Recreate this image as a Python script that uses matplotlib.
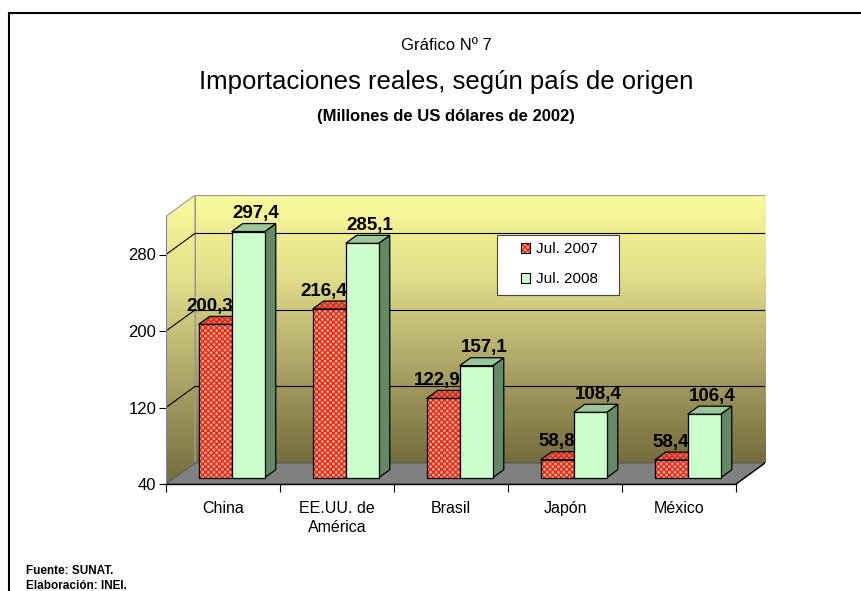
import numpy as np
import matplotlib
matplotlib.use('Agg')
import matplotlib.pyplot as plt
from matplotlib.patches import Polygon, Patch, Rectangle
from matplotlib.lines import Line2D
from matplotlib.colors import LinearSegmentedColormap

# ---------------- data ----------------
categories = ['China', 'EE.UU. de\nAmérica', 'Brasil', 'Japón', 'México']
series_names = ['Jul. 2007', 'Jul. 2008']
values_2007 = [200.3, 216.4, 122.9, 58.8, 58.4]
values_2008 = [297.4, 285.1, 157.1, 108.4, 106.4]
yticks = [40, 120, 200, 280]
title_top = 'Gráfico Nº 7'
title_main = 'Importaciones reales, según país de origen'
title_sub = '(Millones de US dólares de 2002)'
source_lines = ['Fuente: SUNAT.', 'Elaboración: INEI.']

# ---------------- style ----------------
NARROW = ['Liberation Sans Narrow', 'Liberation Sans', 'DejaVu Sans']
ARIAL = ['Liberation Sans', 'DejaVu Sans']
plt.rcParams['font.family'] = ARIAL
plt.rcParams['hatch.linewidth'] = 1.0

YMIN, YMAX = 40, 320
DX, DY = 0.254, 22.0          # depth offset (category units, value units)
F0, F1 = 0.30, 0.68           # bar depth range (fraction of depth)
BW = 0.29                     # bar width

red_face = '#FFAA90'
red_hatch = '#E02A18'
red_top = '#D07862'
green_face = '#CCFFCC'
green_top = '#99C799'
green_side = '#668866'

fig = plt.figure(figsize=(8.61, 5.91), dpi=100)
W, H = 861, 591
ax_left, ax_right, ax_bottom = 166, 765, 484
ax_h = (YMAX + DY - YMIN) * (76.5 / 80)
ax = fig.add_axes([ax_left / W, (H - ax_bottom) / H, (ax_right - ax_left) / W, ax_h / H])
ax.set_facecolor('none')

x0, x1 = -0.5, len(categories) - 0.5

# gradient colormap for walls
wall_cmap = LinearSegmentedColormap.from_list(
    'wall', [(0.0, '#746C3C'), (0.35, '#ABA266'), (0.7, '#E2DE8A'), (1.0, '#FBFB9C')])
grad = np.linspace(0, 1, 256).reshape(-1, 1)

# back wall
ax.imshow(grad, extent=(x0 + DX, x1 + DX, YMIN + DY, YMAX + DY), origin='lower',
          aspect='auto', cmap=wall_cmap, zorder=0, interpolation='bilinear')
ax.add_patch(Polygon([(x0 + DX, YMIN + DY), (x1 + DX, YMIN + DY), (x1 + DX, YMAX + DY),
                      (x0 + DX, YMAX + DY)], closed=True, fill=False,
                     edgecolor='#9A9A9A', lw=0.8, zorder=1))
# left wall
lw_poly = Polygon([(x0, YMIN), (x0 + DX, YMIN + DY), (x0 + DX, YMAX + DY), (x0, YMAX)],
                  closed=True, fill=False, edgecolor='#9A9A9A', lw=0.8, zorder=1)
ax.add_patch(lw_poly)
im = ax.imshow(grad, extent=(x0, x0 + DX, YMIN, YMAX + DY), origin='lower',
               aspect='auto', cmap=wall_cmap, zorder=0, interpolation='bilinear')
im.set_clip_path(lw_poly)

# gridlines
for v in yticks[1:]:
    ax.add_line(Line2D([x0 + DX, x1 + DX], [v + DY, v + DY], color='black', lw=0.8, zorder=1))
    ax.add_line(Line2D([x0, x0 + DX], [v, v + DY], color='black', lw=0.8, zorder=1))

# floor
ax.add_patch(Polygon([(x0, YMIN), (x1, YMIN), (x1 + DX, YMIN + DY), (x0 + DX, YMIN + DY)],
                     closed=True, facecolor='#808080', edgecolor='#555555', lw=0.8, zorder=1))
ax.add_line(Line2D([x1, x1 + DX], [YMIN, YMIN + DY], color='black', lw=1.0, zorder=2))


def face(pts, fc, hatch=None, z=3):
    ax.add_patch(Polygon(pts, closed=True, facecolor=fc, edgecolor='none', lw=0, zorder=z))
    if hatch:
        ax.add_patch(Polygon(pts, closed=True, facecolor='none', edgecolor=red_hatch,
                             hatch=hatch, lw=0, zorder=z))
    ax.add_patch(Polygon(pts, closed=True, facecolor='none', edgecolor='black',
                         lw=0.9, zorder=z, joinstyle='miter'))


def bar3d(xl, xr, v, front, top, side, hatch=None, top_hatch=None, z=3):
    b = YMIN
    fr = [(xl + F0 * DX, b + F0 * DY), (xr + F0 * DX, b + F0 * DY),
          (xr + F0 * DX, v + F0 * DY), (xl + F0 * DX, v + F0 * DY)]
    tp = [(xl + F0 * DX, v + F0 * DY), (xr + F0 * DX, v + F0 * DY),
          (xr + F1 * DX, v + F1 * DY), (xl + F1 * DX, v + F1 * DY)]
    sd = [(xr + F0 * DX, b + F0 * DY), (xr + F1 * DX, b + F1 * DY),
          (xr + F1 * DX, v + F1 * DY), (xr + F0 * DX, v + F0 * DY)]
    face(sd, side, hatch, z)
    face(fr, front, hatch, z)
    face(tp, top, top_hatch, z)


def fmt(v):
    return f'{v:.1f}'.replace('.', ',')


for i, (a, b) in enumerate(zip(values_2007, values_2008)):
    bar3d(i - BW, i, a, red_face, red_top, red_face, hatch='xxxxxx', top_hatch='xxxxxx', z=3 + i * 0.1)
    bar3d(i, i + BW, b, green_face, green_top, green_side, z=3.05 + i * 0.1)
    ax.text(i + F0 * DX + 0.01, a + F1 * DY + 1.5, fmt(a), ha='right', va='bottom',
            fontsize=13.5, fontweight='bold', zorder=10)
    ax.text(i + F0 * DX + 0.01, b + F1 * DY + 1.5, fmt(b), ha='left', va='bottom',
            fontsize=13.5, fontweight='bold', zorder=10)

# axes / ticks
ax.set_xlim(x0, x1 + DX)
ax.set_ylim(YMIN, YMAX + DY)
for s in ['top', 'right']:
    ax.spines[s].set_visible(False)
ax.spines['left'].set_bounds(YMIN, YMAX)
ax.spines['bottom'].set_bounds(x0, x1)
ax.spines['left'].set_color('#888888')
ax.spines['bottom'].set_color('black')
ax.spines['bottom'].set_linewidth(1.0)
ax.set_yticks(yticks)
ax.set_yticklabels([str(t) for t in yticks], fontfamily=NARROW, fontsize=12)
ax.tick_params(axis='y', direction='out', length=5, width=0.8, pad=2, color='black')
ax.set_xticks(np.arange(x0, x1 + 0.01, 1.0))
ax.set_xticklabels([])
ax.set_xticks(np.arange(len(categories)), minor=True)
ax.set_xticklabels(categories, minor=True, fontfamily=NARROW, fontsize=11.5,
                   linespacing=1.35)
ax.tick_params(axis='x', which='major', direction='out', length=6, width=0.8, color='black')
ax.tick_params(axis='x', which='minor', length=0, pad=12)

# legend (frame drawn separately to match the reference box)
ax.add_patch(Rectangle((497 / W, 1 - 295 / H), 122 / W, 60 / H, transform=fig.transFigure,
                       facecolor='white', edgecolor='#444444', lw=0.8, zorder=19,
                       clip_on=False))
h07 = (Patch(facecolor=red_face, edgecolor=red_hatch, hatch='xxxxxx', lw=0),
       Patch(facecolor='none', edgecolor='black', lw=0.8))
h08 = Patch(facecolor=green_face, edgecolor='black', lw=0.8)
leg = ax.legend([h07, h08], series_names, loc='upper left',
                bbox_to_anchor=(521 / W, 1 - 242 / H), bbox_transform=fig.transFigure,
                frameon=False, fontsize=11,
                handlelength=0.62, handleheight=0.62, handletextpad=0.35,
                borderpad=0, labelspacing=1.05, borderaxespad=0)
leg.set_zorder(20)

# titles
fig.text(446 / W, 1 - 45 / H, title_top, ha='center', va='center', fontsize=12,
         fontfamily=NARROW)
fig.text(446 / W, 1 - 82 / H, title_main, ha='center', va='center', fontsize=18.5,
         fontfamily=NARROW)
fig.text(446 / W, 1 - 117 / H, title_sub, ha='center', va='center', fontsize=12,
         fontfamily=NARROW, fontweight='bold')

# source
fig.text(26 / W, 1 - 571 / H, source_lines[0], ha='left', va='center', fontsize=8.5,
         fontweight='bold')
fig.text(26 / W, 1 - 586 / H, source_lines[1], ha='left', va='center', fontsize=8.5,
         fontweight='bold')

# outer frame
fig.add_artist(Line2D([9 / W, 1.0], [1 - 13 / H, 1 - 13 / H], transform=fig.transFigure,
                      color='black', lw=1.5))
fig.add_artist(Line2D([9 / W, 9 / W], [0, 1 - 13 / H], transform=fig.transFigure,
                      color='black', lw=1.5))

fig.savefig('out.png', dpi=100)
